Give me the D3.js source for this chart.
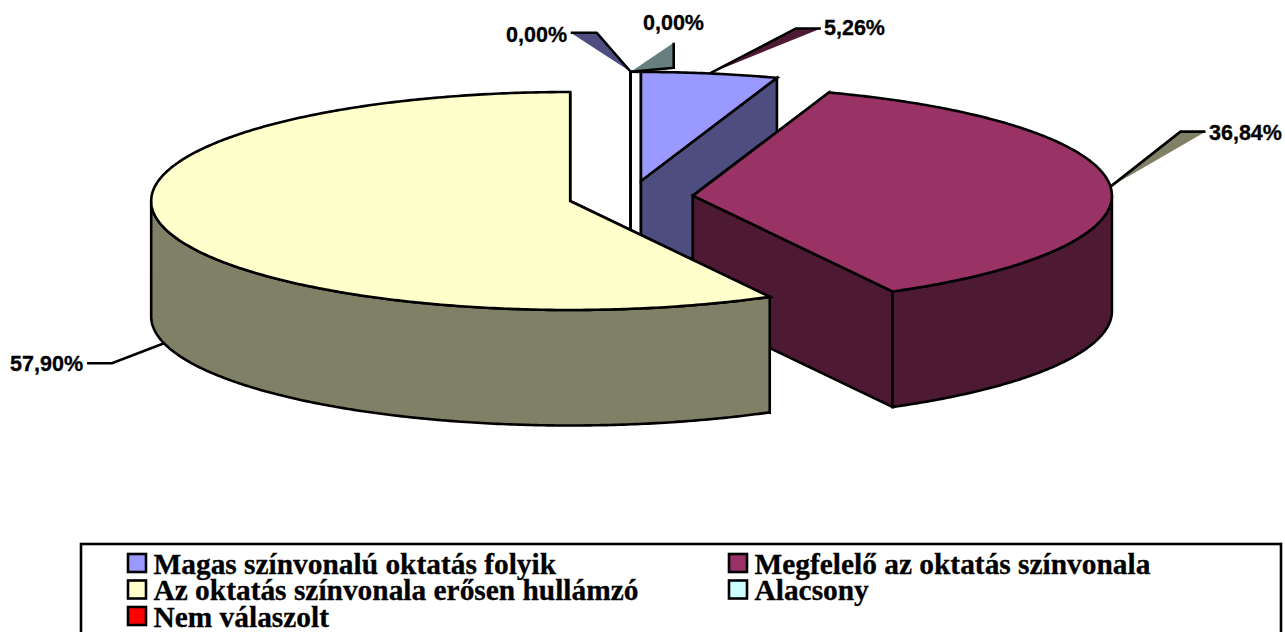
<!DOCTYPE html>
<html>
<head>
<meta charset="utf-8">
<script src="https://cdn.jsdelivr.net/npm/d3@7"></script>
<style>
  html, body { margin: 0; padding: 0; background: #fff; overflow: hidden; }
  svg { display: block; }
</style>
</head>
<body>
<svg id="chart"></svg>
<script>
const categories = ["Magas színvonalú oktatás folyik", "Megfelelő az oktatás színvonala", "Az oktatás színvonala erősen hullámzó", "Alacsony", "Nem válaszolt"];
const values = [5.26, 36.84, 57.90, 0, 0];
const topColors = ["#9999FF", "#993366", "#FFFFCC", "#CCFFFF", "#FF0000"];
const wallColors = ["#4D4D80", "#4D1933", "#808066", "#668080", "#800000"];
const valueLabels = ["5,26%", "36,84%", "57,90%", "0,00%", "0,00%"];

const width = 1285;
const height = 632;

// pie geometry, fitted on the reference
const baseX = 630.7, baseY = 197;
const rx = 419, ry = 109, depth = 115.5;
const explode = 0.149;

const svg = d3.select("#chart").attr("width", width).attr("height", height);

const slices = d3.pie().sort(null).startAngle(0).endAngle(2 * Math.PI)(values);

const mid = d => (d.startAngle + d.endAngle) / 2;
const centerOf = d => [baseX + explode * rx * Math.sin(mid(d)), baseY - explode * ry * Math.cos(mid(d))];
const rim = (c, a, dy = 0) => [c[0] + rx * Math.sin(a), c[1] - ry * Math.cos(a) + dy];

const line = d3.line();

function arcPoints(c, a0, a1, dy = 0) {
  const n = Math.max(2, Math.ceil((a1 - a0) / 0.01));
  return d3.range(n + 1).map(i => rim(c, a0 + (a1 - a0) * i / n, dy));
}

function face(g, c, a, color) {
  g.append("path")
    .attr("d", line([c, rim(c, a), rim(c, a, depth), [c[0], c[1] + depth]]) + "Z")
    .attr("fill", color);
}

const pieG = svg.append("g")
  .attr("stroke", "#000")
  .attr("stroke-width", 2.6)
  .attr("stroke-linejoin", "miter");

// back to front: zero slices first, yellow last
[3, 4, 0, 1, 2].forEach(i => {
  const d = slices[i];
  const c = centerOf(d);
  const g = pieG.append("g");
  face(g, c, d.startAngle, wallColors[i]);
  face(g, c, d.endAngle, wallColors[i]);

  const a0 = Math.max(d.startAngle, Math.PI / 2);
  const a1 = Math.min(d.endAngle, 3 * Math.PI / 2);
  if (a1 > a0) {
    const front = arcPoints(c, a0, a1);
    const bottom = arcPoints(c, a0, a1, depth).reverse();
    g.append("path").attr("d", line(front.concat(bottom)) + "Z").attr("fill", wallColors[i]);
  }
  g.append("path")
    .attr("d", line([c].concat(arcPoints(c, d.startAngle, d.endAngle))) + "Z")
    .attr("fill", topColors[i]);
});

// edge closing the gap between the zero slices and the first slice
pieG.append("path")
  .attr("d", line([rim(centerOf(slices[3]), 0), rim(centerOf(slices[0]), 0)]))
  .attr("fill", "none");

// label leaders: anchor on the pie, elbow, end next to the text
const anchorOf = [
  rim(centerOf(slices[0]), mid(slices[0])),
  rim(centerOf(slices[1]), mid(slices[1])),
  rim(centerOf(slices[2]), mid(slices[2]), depth),
  rim(centerOf(slices[3]), 0),
  rim(centerOf(slices[4]), 0)
];
const leaders = [
  { i: 0, elbow: [86, -45], end: [111, -45], fill: wallColors[1], tx: 824, ty: 35, anchor: "start" },
  { i: 1, elbow: [70, -55], end: [95, -55], fill: wallColors[2], tx: 1209, ty: 140, anchor: "start" },
  { i: 2, elbow: [-52, 20], end: [-77, 20], fill: "none", tx: 83, ty: 371, anchor: "end" },
  { i: 3, elbow: [-34, -39], end: [-60, -39], fill: wallColors[0], tx: 567, ty: 42, anchor: "end" },
  { i: 4, elbow: [43, -4], end: [43, -29], fill: wallColors[3], tx: 643, ty: 30, anchor: "start" }
];

const leaderG = svg.append("g");
leaders.forEach(l => {
  const a = anchorOf[l.i];
  const elbow = [a[0] + l.elbow[0], a[1] + l.elbow[1]];
  const end = [a[0] + l.end[0], a[1] + l.end[1]];
  leaderG.append("path").attr("d", line([a, elbow, end]) + "Z").attr("fill", l.fill);
  leaderG.append("path")
    .attr("d", line([a, elbow, end]))
    .attr("fill", "none")
    .attr("stroke", "#000")
    .attr("stroke-width", 2.6);
  leaderG.append("text")
    .attr("x", l.tx)
    .attr("y", l.ty)
    .attr("text-anchor", l.anchor)
    .attr("font-family", "'Liberation Sans', Arial, sans-serif")
    .attr("font-weight", "bold")
    .attr("font-size", 21.5)
    .attr("fill", "#000")
    .attr("stroke", "#000")
    .attr("stroke-width", 0.3)
    .text(valueLabels[l.i]);
});

// legend, cut by the bottom of the page like the reference
const legend = svg.append("g");
legend.append("rect")
  .attr("x", 81)
  .attr("y", 544)
  .attr("width", 1200)
  .attr("height", 120)
  .attr("fill", "#fff")
  .attr("stroke", "#000")
  .attr("stroke-width", 2.6);

const colX = d3.scaleOrdinal().domain([0, 1]).range([128, 729]);
const rowY = d3.scaleLinear().domain([0, 2]).range([554, 607]);

const items = legend.selectAll("g.item")
  .data(categories)
  .enter().append("g")
  .attr("class", "item")
  .attr("transform", (d, i) => `translate(${colX(i % 2)},${rowY(Math.floor(i / 2))})`);

items.append("rect")
  .attr("width", 18)
  .attr("height", 18)
  .attr("fill", (d, i) => topColors[i])
  .attr("stroke", "#000")
  .attr("stroke-width", 2.6);

items.append("text")
  .attr("x", 25.5)
  .attr("y", 19.5)
  .attr("font-family", "'Liberation Serif', 'Times New Roman', serif")
  .attr("font-weight", "bold")
  .attr("font-size", 29.4)
  .attr("fill", "#000")
  .attr("stroke", "#000")
  .attr("stroke-width", 0.3)
  .text(d => d);
</script>
</body>
</html>
